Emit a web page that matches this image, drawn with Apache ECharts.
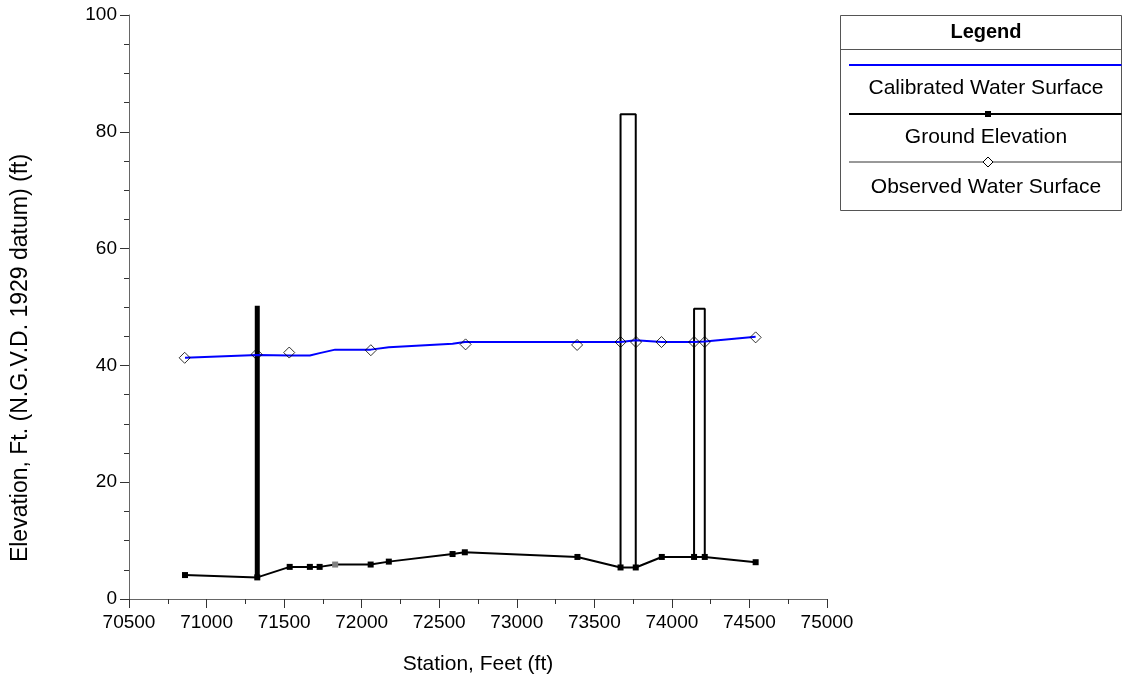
<!DOCTYPE html>
<html>
<head>
<meta charset="utf-8">
<script src="https://cdn.jsdelivr.net/npm/echarts@6/dist/echarts.min.js"></script>
<style>
html,body{margin:0;padding:0;background:#fff;}
#chart{width:1125px;height:690px;}
</style>
</head>
<body>
<div id="chart"></div>
<script>
// ---- data ----
const xTickValues = [70500, 71000, 71500, 72000, 72500, 73000, 73500, 74000, 74500, 75000];
const yTickValues = [0, 20, 40, 60, 80, 100];

const groundStations = [70861, 71327, 71536, 71666, 71729, 71829, 72058, 72175, 72586, 72665, 73391, 73669, 73767, 73935, 74143, 74212, 74540];
const groundElev     = [4.1, 3.7, 5.5, 5.5, 5.5, 5.9, 5.9, 6.4, 7.7, 8.0, 7.2, 5.4, 5.4, 7.2, 7.2, 7.2, 6.3];
const grayMarkerIndex = 5;

const calStations = [70861, 71327, 71536, 71666, 71729, 71829, 72058, 72175, 72586, 72665, 73391, 73669, 73767, 73935, 74143, 74212, 74540];
const calWS       = [41.3, 41.8, 41.7, 41.7, 42.1, 42.7, 42.7, 43.1, 43.7, 44.0, 44.0, 44.0, 44.3, 44.0, 44.0, 44.1, 44.9];

const obsStations = [70859, 71323, 71533, 72059, 72670, 73389, 73669, 73769, 73933, 74143, 74212, 74540];
const obsWS       = [41.3, 41.9, 42.2, 42.6, 43.6, 43.5, 44.0, 44.0, 44.0, 44.0, 44.0, 44.8];

// structures (station pairs, bottom & top elevations)
const pierStation = [71327];
const pierElev = [3.7, 50.2];
const box1Stations = [73669, 73767];
const box1Elev = [5.4, 83.0];
const box2Stations = [74143, 74212];
const box2Elev = [7.2, 49.7];

const legendLabels = ['Calibrated Water Surface', 'Ground Elevation', 'Observed Water Surface'];

// ---- build ----
const FONT = '"Liberation Sans", Arial, sans-serif';
const groundData = groundStations.map((s, i) => {
  const d = { value: [s, groundElev[i]] };
  if (i === grayMarkerIndex) d.itemStyle = { color: '#808080' };
  return d;
});
const calData = calStations.map((s, i) => [s, calWS[i]]);
const obsData = obsStations.map((s, i) => [s, obsWS[i]]);
function boxData(st, el) {
  return [[st[0], el[0]], [st[0], el[1]], [st[1], el[1]], [st[1], el[0]]];
}
const pierData = [[pierStation[0], pierElev[0]], [pierStation[0], pierElev[1]]];

const chart = echarts.init(document.getElementById('chart'), null, { renderer: 'canvas' });

const axisCol = '#666666';
const LX = 840.5, LY = 15.5, LW = 281, LH = 195, LCX = 986;

chart.setOption({
  animation: false,
  backgroundColor: '#ffffff',
  grid: { left: 129, right: 298, top: 15, bottom: 91, containLabel: false },
  xAxis: {
    type: 'value', min: xTickValues[0], max: xTickValues[xTickValues.length - 1], interval: 500,
    name: 'Station, Feet (ft)', nameLocation: 'middle', nameGap: 55,
    nameTextStyle: { fontFamily: FONT, fontSize: 21, color: '#000' },
    axisLine: { show: true, onZero: false, lineStyle: { color: axisCol, width: 1 } },
    axisTick: { show: true, length: 9, lineStyle: { color: '#333' } },
    minorTick: { show: true, splitNumber: 2, length: 5, lineStyle: { color: '#333' } },
    axisLabel: { fontFamily: FONT, fontSize: 19, color: '#000', margin: 14, formatter: v => String(v) },
    splitLine: { show: false }
  },
  yAxis: {
    type: 'value', min: yTickValues[0], max: yTickValues[yTickValues.length - 1], interval: 20,
    axisLine: { show: true, onZero: false, lineStyle: { color: axisCol, width: 1 } },
    axisTick: { show: true, length: 9, lineStyle: { color: '#333' } },
    minorTick: { show: true, splitNumber: 4, length: 5, lineStyle: { color: '#333' } },
    axisLabel: { fontFamily: FONT, fontSize: 19, color: '#000', margin: 12, formatter: v => String(v) },
    splitLine: { show: false }
  },
  series: [
    { type: 'line', data: pierData, symbol: 'none', lineStyle: { color: '#000', width: 5 }, z: 2 },
    { type: 'line', data: boxData(box1Stations, box1Elev), symbol: 'none', lineStyle: { color: '#000', width: 2 }, z: 2 },
    { type: 'line', data: boxData(box2Stations, box2Elev), symbol: 'none', lineStyle: { color: '#000', width: 2 }, z: 2 },
    { name: legendLabels[1], type: 'line', data: groundData, symbol: 'rect', symbolSize: 6, showSymbol: true,
      lineStyle: { color: '#000', width: 2 }, itemStyle: { color: '#000' }, z: 3 },
    { name: legendLabels[0], type: 'line', data: calData, symbol: 'none',
      lineStyle: { color: '#0000ff', width: 2 }, itemStyle: { color: '#0000ff' }, z: 4 },
    { name: legendLabels[2], type: 'scatter', data: obsData, symbol: 'diamond', symbolSize: [11, 11],
      itemStyle: { color: 'rgba(255,255,255,0)', borderColor: '#000', borderWidth: 1 }, z: 5 }
  ],
  graphic: [
    { type: 'text', x: 21, y: 358, rotation: Math.PI / 2,
      style: { text: 'Elevation, Ft. (N.G.V.D. 1929 datum) (ft)', fontFamily: FONT, fontSize: 23, fill: '#000', align: 'center', verticalAlign: 'middle' } },
    { type: 'rect', shape: { x: LX, y: LY, width: LW, height: LH }, style: { fill: '#fff', stroke: '#555', lineWidth: 1 }, z: 10 },
    { type: 'line', shape: { x1: LX, y1: 49.5, x2: LX + LW, y2: 49.5 }, style: { stroke: '#555', lineWidth: 1 }, z: 11 },
    { type: 'text', x: LCX, y: 32, style: { text: 'Legend', fontFamily: FONT, fontSize: 20, fontWeight: 'bold', fill: '#000', align: 'center', verticalAlign: 'middle' }, z: 11 },
    { type: 'line', shape: { x1: 849, y1: 65, x2: LX + LW, y2: 65 }, style: { stroke: '#0000ff', lineWidth: 2 }, z: 11 },
    { type: 'text', x: LCX, y: 88, style: { text: legendLabels[0], fontFamily: FONT, fontSize: 21, fill: '#000', align: 'center', verticalAlign: 'middle' }, z: 11 },
    { type: 'line', shape: { x1: 849, y1: 114, x2: LX + LW, y2: 114 }, style: { stroke: '#000', lineWidth: 2 }, z: 11 },
    { type: 'rect', shape: { x: 985, y: 111, width: 6, height: 6 }, style: { fill: '#000' }, z: 12 },
    { type: 'text', x: LCX, y: 137, style: { text: legendLabels[1], fontFamily: FONT, fontSize: 21, fill: '#000', align: 'center', verticalAlign: 'middle' }, z: 11 },
    { type: 'line', shape: { x1: 849, y1: 162, x2: LX + LW, y2: 162 }, style: { stroke: '#333', lineWidth: 1 }, z: 11 },
    { type: 'polygon', shape: { points: [[988, 157], [993, 162], [988, 167], [983, 162]] }, style: { fill: '#fff', stroke: '#000', lineWidth: 1 }, z: 12 },
    { type: 'text', x: LCX, y: 187, style: { text: legendLabels[2], fontFamily: FONT, fontSize: 21, fill: '#000', align: 'center', verticalAlign: 'middle' }, z: 11 }
  ]
});
</script>
</body>
</html>
